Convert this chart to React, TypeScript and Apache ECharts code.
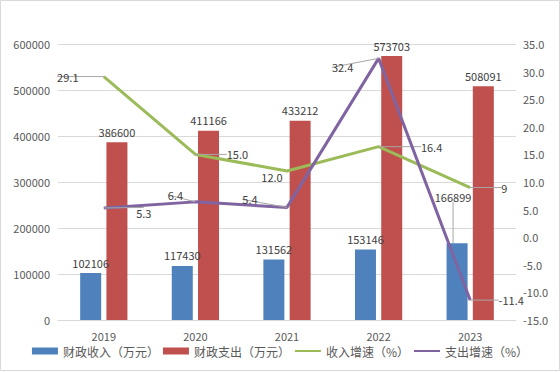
import React, { useEffect, useRef } from 'react';
import * as echarts from 'echarts';

const years = ['2019', '2020', '2021', '2022', '2023'];
const revenue = [102106, 117430, 131562, 153146, 166899];
const expenditure = [386600, 411166, 433212, 573703, 508091];
const revenueGrowth = [29.1, 15.0, 12.0, 16.4, 9];
const expenditureGrowth = [5.3, 6.4, 5.4, 32.4, -11.4];
const revenueGrowthText = ['29.1', '15.0', '12.0', '16.4', '9'];
const expenditureGrowthText = ['5.3', '6.4', '5.4', '32.4', '-11.4'];
const leftTicks = { min: 0, max: 600000, interval: 100000 };
const rightTicks = { min: -15, max: 35, interval: 5 };

// label offsets (layout only)
const revenueGrowthOffsets = [[-36, 0], [42, 0], [-15, 6], [53, 0], [34, 0]];
const expenditureGrowthOffsets = [[40, 5], [-20, -7], [-37, -8], [-36, 9], [41, 0]];

const FONT = '"Noto Sans CJK SC", "Noto Sans", sans-serif';
const TICK = '#595959';
const LABEL = '#404040';
const GUIDE = { show: true, lineStyle: { color: '#a6a6a6', width: 1 } };

export default function App() {
  const ref = useRef<HTMLDivElement>(null);
  useEffect(() => {
    const chart = echarts.init(ref.current!, null, { renderer: 'svg' });
    const names = ['财政收入（万元）', '财政支出（万元）', '收入增速（%）', '支出增速（%）'];
    chart.setOption({
      animation: false,
      textStyle: { fontFamily: FONT },
      graphic: [
        {
          type: 'rect',
          shape: { x: 0.5, y: 0.5, width: 559, height: 370 },
          style: { fill: 'none', stroke: '#d9d9d9', lineWidth: 1 },
          silent: true,
        },
      ],
      grid: { left: 58, right: 44, top: 44, bottom: 52 },
      legend: {
        bottom: 10,
        left: 'center',
        itemWidth: 26,
        itemHeight: 7,
        itemGap: 4,
        textStyle: { fontFamily: FONT, fontSize: 12, color: TICK },
        data: [
          { name: names[0], icon: 'rect' },
          { name: names[1], icon: 'rect' },
          { name: names[2], itemStyle: { opacity: 0 } },
          { name: names[3], itemStyle: { opacity: 0 } },
        ],
      },
      xAxis: {
        type: 'category',
        data: years,
        axisLine: { lineStyle: { color: '#d9d9d9' } },
        axisTick: { show: false },
        axisLabel: { color: TICK, fontSize: 11, margin: 10, fontFamily: FONT },
      },
      yAxis: [
        {
          type: 'value',
          ...leftTicks,
          axisLine: { show: false },
          axisTick: { show: false },
          splitLine: { lineStyle: { color: '#d9d9d9' } },
          axisLabel: {
            color: TICK,
            fontSize: 11,
            margin: 8,
            fontFamily: FONT,
            formatter: (v: number) => String(v),
          },
        },
        {
          type: 'value',
          ...rightTicks,
          axisLine: { show: false },
          axisTick: { show: false },
          splitLine: { show: false },
          axisLabel: {
            color: TICK,
            fontSize: 11,
            margin: 7,
            fontFamily: FONT,
            formatter: (v: number) => v.toFixed(1),
          },
        },
      ],
      series: [
        {
          name: names[0],
          type: 'bar',
          barWidth: 21,
          barGap: '25%',
          itemStyle: { color: '#4F81BD' },
          label: { show: true, position: 'top', distance: 5, color: LABEL, fontSize: 11, fontFamily: FONT },
          labelLine: { show: false, lineStyle: { color: '#a6a6a6', width: 1 } },
          labelLayout: (p: any) => (p.dataIndex === 4 ? { dx: -4, dy: -36 } : {}),
          data: revenue.map((v, i) => (i === 4 ? { value: v, labelLine: GUIDE } : v)),
        },
        {
          name: names[1],
          type: 'bar',
          barWidth: 21,
          itemStyle: { color: '#C0504D' },
          label: { show: true, position: 'top', distance: 5, color: LABEL, fontSize: 11, fontFamily: FONT },
          data: expenditure,
        },
        {
          name: names[2],
          type: 'line',
          yAxisIndex: 1,
          symbol: 'circle',
          symbolSize: 0,
          lineStyle: { color: '#9BBB59', width: 3 },
          itemStyle: { color: '#9BBB59' },
          label: {
            show: true,
            position: 'inside',
            padding: [0, 3],
            color: LABEL,
            fontSize: 11,
            fontFamily: FONT,
            formatter: (p: any) => revenueGrowthText[p.dataIndex],
          },
          labelLine: GUIDE,
          labelLayout: (p: any) => ({ dx: revenueGrowthOffsets[p.dataIndex][0], dy: revenueGrowthOffsets[p.dataIndex][1] }),
          data: revenueGrowth.map((v, i) => (i === 2 ? { value: v, labelLine: { show: false } } : v)),
          z: 3,
        },
        {
          name: names[3],
          type: 'line',
          yAxisIndex: 1,
          symbol: 'circle',
          symbolSize: 0,
          lineStyle: { color: '#8064A2', width: 3 },
          itemStyle: { color: '#8064A2' },
          label: {
            show: true,
            position: 'inside',
            padding: [0, 3],
            color: LABEL,
            fontSize: 11,
            fontFamily: FONT,
            formatter: (p: any) => expenditureGrowthText[p.dataIndex],
          },
          labelLine: GUIDE,
          labelLayout: (p: any) => ({ dx: expenditureGrowthOffsets[p.dataIndex][0], dy: expenditureGrowthOffsets[p.dataIndex][1] }),
          data: expenditureGrowth,
          z: 4,
        },
      ],
    });
    return () => chart.dispose();
  }, []);
  return (
    <div
      ref={ref}
      style={{ position: 'absolute', left: 0, top: 0, width: 560, height: 372, background: '#fff' }}
    />
  );
}
